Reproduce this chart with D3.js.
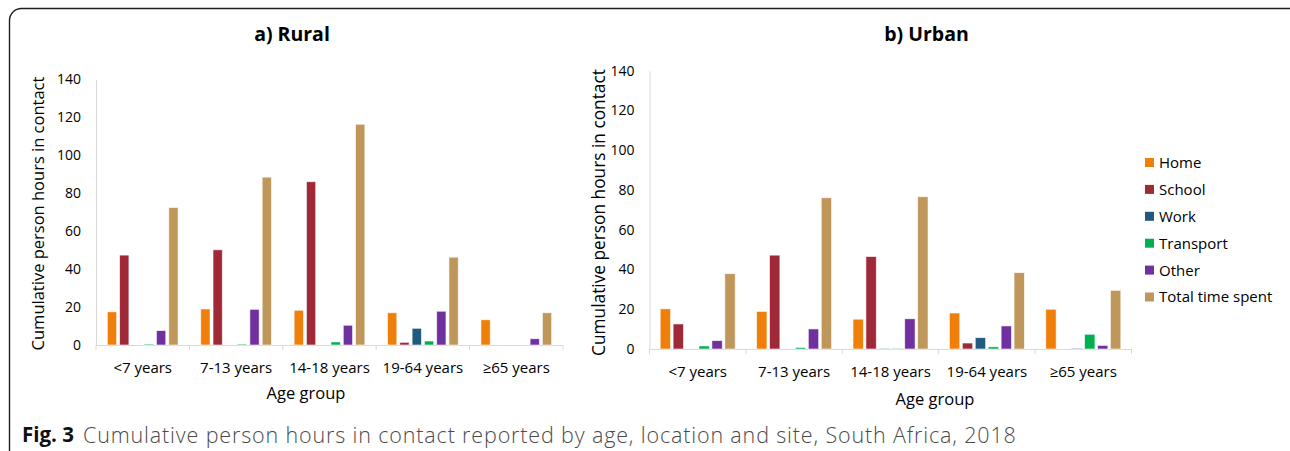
<!DOCTYPE html>
<html>
<head>
<meta charset="utf-8">
<script src="https://cdn.jsdelivr.net/npm/d3@7"></script>
<style>
  html, body { margin: 0; padding: 0; background: #fff; }
  svg { display: block; font-family: "Open Sans", sans-serif; }
</style>
</head>
<body>
<svg id="fig" width="1290" height="451"></svg>
<script>
// Categories and series
const ageGroups = ["<7 years", "7-13 years", "14-18 years", "19-64 years", "≥65 years"];
const sites = ["Home", "School", "Work", "Transport", "Other", "Total time spent"];
const siteColors = ["#F07F09", "#9F2937", "#1F5B7E", "#00B050", "#7030A0", "#C0975A"];
const yTicks = [0, 20, 40, 60, 80, 100, 120, 140];

// Rural cumulative person hours, by site
const ruralHome      = [17.5, 19.0, 18.3, 17.0, 13.3];
const ruralSchool    = [47.4, 50.2, 86.1, 1.4, 0];
const ruralWork      = [0, 0, 0, 8.8, 0];
const ruralTransport = [0.5, 0.5, 1.6, 2.1, 0];
const ruralOther     = [7.6, 18.8, 10.4, 17.8, 3.3];
const ruralTotal     = [72.5, 88.5, 116.4, 46.3, 17.0];

// Urban cumulative person hours, by site
const urbanHome      = [20.2, 18.9, 15.0, 18.1, 20.0];
const urbanSchool    = [12.6, 47.2, 46.5, 3.0, 0];
const urbanWork      = [0, 0, 0.2, 5.7, 0.4];
const urbanTransport = [1.5, 0.8, 0.2, 1.1, 7.4];
const urbanOther     = [4.2, 10.1, 15.2, 11.6, 1.8];
const urbanTotal     = [37.9, 76.1, 76.6, 38.4, 29.5];

const svg = d3.select("#fig");

// Figure frame (rounded box, running off the right and bottom edges)
svg.append("rect")
  .attr("x", 9.5).attr("y", 8.5)
  .attr("width", 1292).attr("height", 500)
  .attr("rx", 12).attr("ry", 12)
  .attr("fill", "none")
  .attr("stroke", "#1e1e1e")
  .attr("stroke-width", 1.4);

const panels = [
  {
    title: "a) Rural", titleX: 292,
    series: [ruralHome, ruralSchool, ruralWork, ruralTransport, ruralOther, ruralTotal],
    x: [96, 563], y: [345, 79.5],
    groupPad: 0.243, barPad: 0.245,
    yTitleX: 38.5, yTitleY: 213.5, yTitleSize: 16.5,
    tickSize: 14, catSize: 15, catY: 368,
    xTitleX: 306, xTitleY: 393.5, xTitleSize: 16.5
  },
  {
    title: "b) Urban", titleX: 926.5,
    series: [urbanHome, urbanSchool, urbanWork, urbanTransport, urbanOther, urbanTotal],
    x: [649.5, 1131.5], y: [349, 70.7],
    groupPad: 0.222, barPad: 0.2,
    yTitleX: 599, yTitleY: 212.5, yTitleSize: 17.3,
    tickSize: 14, catSize: 15, catY: 372,
    xTitleX: 935, xTitleY: 399, xTitleSize: 16.5
  }
];

panels.forEach(p => {
  const g = svg.append("g");

  const x0 = d3.scaleBand()
    .domain(ageGroups)
    .range(p.x)
    .paddingInner(p.groupPad)
    .paddingOuter(p.groupPad / 2);

  const x1 = d3.scaleBand()
    .domain(sites)
    .range([0, x0.bandwidth()])
    .paddingInner(p.barPad)
    .paddingOuter(0);

  const y = d3.scaleLinear().domain([0, 140]).range(p.y);

  // Panel title
  g.append("text")
    .attr("x", p.titleX).attr("y", 34)
    .attr("dy", "0.36em")
    .attr("text-anchor", "middle")
    .attr("font-weight", "bold")
    .attr("font-size", 19.5)
    .attr("fill", "#000")
    .text(p.title);

  // Value axis
  const yAxis = g.append("g")
    .attr("transform", `translate(${p.x[0]},0)`)
    .call(d3.axisLeft(y).tickValues(yTicks).tickSize(0).tickPadding(15));
  yAxis.select(".domain").attr("stroke", "#d9d9d9").attr("stroke-width", 1);
  yAxis.selectAll("text")
    .attr("font-family", "Open Sans, sans-serif")
    .attr("font-size", p.tickSize)
    .attr("fill", "#000");

  // Category axis with boundary ticks
  const base = y(0);
  g.append("line")
    .attr("x1", p.x[0]).attr("x2", p.x[1])
    .attr("y1", base + 0.5).attr("y2", base + 0.5)
    .attr("stroke", "#d9d9d9").attr("stroke-width", 1.2);
  const step = x0.step();
  const bounds = d3.range(ageGroups.length + 1).map(i => p.x[0] + i * step);
  g.selectAll("line.bound")
    .data(bounds)
    .join("line")
    .attr("class", "bound")
    .attr("x1", d => d).attr("x2", d => d)
    .attr("y1", base).attr("y2", base + 5)
    .attr("stroke", "#d9d9d9").attr("stroke-width", 1);

  g.selectAll("text.cat")
    .data(ageGroups)
    .join("text")
    .attr("class", "cat")
    .attr("x", d => x0(d) + x0.bandwidth() / 2)
    .attr("y", p.catY)
    .attr("dy", "0.36em")
    .attr("text-anchor", "middle")
    .attr("font-size", p.catSize)
    .attr("fill", "#000")
    .text(d => d);

  // Bars
  const rows = [];
  ageGroups.forEach((a, i) => {
    sites.forEach((s, j) => rows.push({ age: a, site: s, value: p.series[j][i], color: siteColors[j] }));
  });
  g.selectAll("rect.bar")
    .data(rows.filter(d => d.value > 0))
    .join("rect")
    .attr("class", "bar")
    .attr("x", d => x0(d.age) + x1(d.site))
    .attr("width", x1.bandwidth())
    .attr("y", d => y(d.value))
    .attr("height", d => base - y(d.value))
    .attr("fill", d => d.color)
    .attr("stroke", "#fff")
    .attr("stroke-opacity", 0.7)
    .attr("stroke-width", 0.8);

  // Axis titles
  g.append("text")
    .attr("transform", `translate(${p.yTitleX},${p.yTitleY}) rotate(-90)`)
    .attr("dy", "0.36em")
    .attr("text-anchor", "middle")
    .attr("font-size", p.yTitleSize)
    .attr("fill", "#000")
    .text("Cumulative person hours in contact");

  g.append("text")
    .attr("x", p.xTitleX).attr("y", p.xTitleY)
    .attr("dy", "0.36em")
    .attr("text-anchor", "middle")
    .attr("font-size", p.xTitleSize)
    .attr("fill", "#000")
    .text("Age group");
});

// Legend
const legend = svg.append("g").attr("transform", "translate(1145,162.5)");
const item = legend.selectAll("g")
  .data(sites)
  .join("g")
  .attr("transform", (d, i) => `translate(0,${i * 26.9})`);
item.append("rect")
  .attr("x", 0).attr("y", -4.5)
  .attr("width", 9).attr("height", 9)
  .attr("fill", (d, i) => siteColors[i]);
item.append("text")
  .attr("x", 14).attr("y", 0)
  .attr("dy", "0.36em")
  .attr("font-size", 15)
  .attr("fill", "#000")
  .text(d => d);

// Caption
svg.append("text")
  .attr("x", 22).attr("y", 435)
  .attr("dy", "0.36em")
  .attr("font-size", 20.5)
  .attr("font-weight", "bold")
  .attr("fill", "#111")
  .text("Fig. 3");
svg.append("text")
  .attr("x", 83).attr("y", 435)
  .attr("dy", "0.36em")
  .attr("font-size", 21.5)
  .attr("letter-spacing", 0.85)
  .attr("font-weight", 300)
  .attr("fill", "#4a4a4a")
  .text("Cumulative person hours in contact reported by age, location and site, South Africa, 2018");
</script>
</body>
</html>
